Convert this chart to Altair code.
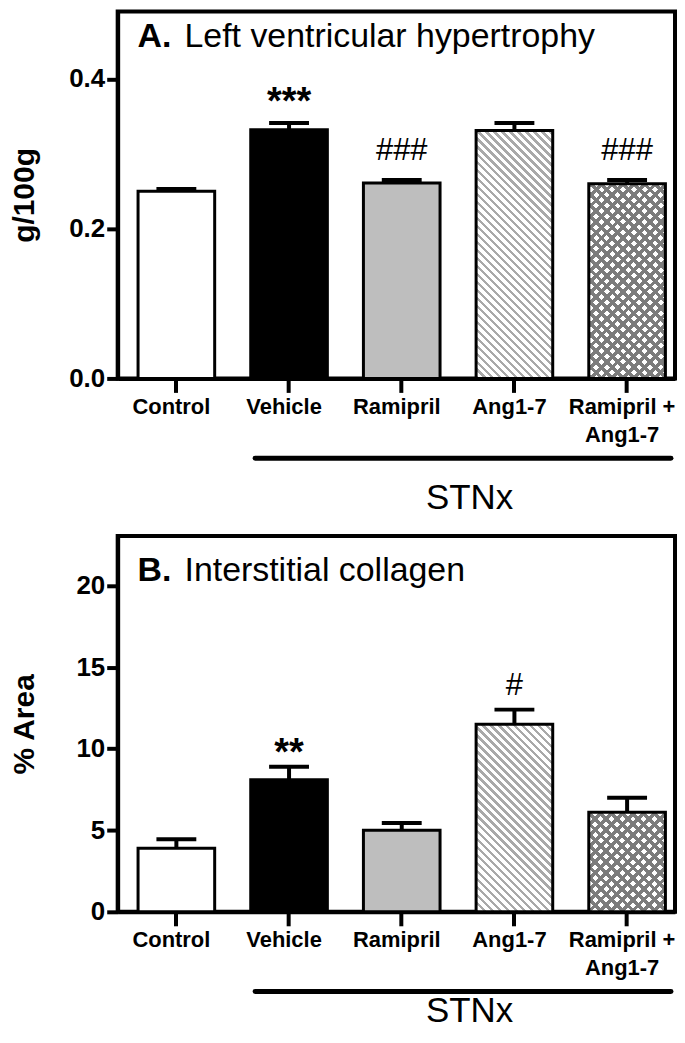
import altair as alt
import pandas as pd

# ---------------- data ----------------
groups = ["Control", "Vehicle", "Ramipril", "Ang1-7", "Ramipril + Ang1-7"]

lvh_mean = [0.250, 0.332, 0.261, 0.331, 0.260]
lvh_sem = [0.003, 0.009, 0.004, 0.010, 0.005]
lvh_stars = ["", "***", "", "", ""]
lvh_hashes = ["", "", "###", "", "###"]

col_mean = [3.9, 8.1, 5.0, 11.5, 6.1]
col_sem = [0.55, 0.8, 0.45, 0.9, 0.9]
col_stars = ["", "**", "", "", ""]
col_hashes = ["", "", "", "#", ""]

solid_fills = {"Control": "#ffffff", "Vehicle": "#000000", "Ramipril": "#bebebe"}

# ---------------- layout ----------------
W = 559
P_INNER = 0.32
P_OUTER = 0.133
ALIGN = 0.68
STEP = W / (len(groups) - P_INNER + 2 * P_OUTER)
BAR_W = STEP * (1 - P_INNER)
FONT = "Liberation Sans"


def stripe_grad(w, h, period, frac, color, bg, direction):
    n = (w + h) / period
    stops = []
    k = 0
    while k < n:
        a = k / n
        b = min((k + frac) / n, 1.0)
        c = min((k + 1) / n, 1.0)
        stops += [
            {"offset": a, "color": color},
            {"offset": b, "color": color},
            {"offset": b, "color": bg},
            {"offset": c, "color": bg},
        ]
        k += 1
    s = (w + h) / (w * w + h * h)
    if direction == "back":
        return {"gradient": "linear", "x1": 0, "y1": 1, "x2": w * s, "y2": 1 - h * s, "stops": stops}
    return {"gradient": "linear", "x1": 0, "y1": 0, "x2": w * s, "y2": h * s, "stops": stops}


def panel(means, sems, stars, hashes, ymax, H, ticks, fmt, ytitle, letter, name,
          title_y, stnx_y, star_dy, hash_dy):
    df = pd.DataFrame({
        "group": groups,
        "mean": means,
        "upper": [m + s for m, s in zip(means, sems)],
        "star": stars,
        "hash": hashes,
    })
    df["fill"] = [solid_fills.get(g, "#ffffff") for g in groups]

    xs = alt.Scale(domain=groups, paddingInner=P_INNER, paddingOuter=P_OUTER, align=ALIGN)
    xaxis = alt.Axis(
        title=None, labelAngle=0, labelFontSize=22, labelFontWeight="bold",
        labelBaseline="top", labelPadding=4, labelLineHeight=28, labelOffset=-5,
        labelExpr="split(replace(datum.label, ' + ', ' +\\n'), '\\n')",
        tickSize=14, tickWidth=4, domainWidth=4, tickColor="black",
        domainColor="black", labelColor="black",
    )
    ys = alt.Scale(domain=[0, ymax], nice=False, zero=True)
    yaxis = alt.Axis(
        title=ytitle, titleFontSize=30, titleFontWeight="bold", titleColor="black",
        titleX=-108, titleBaseline="top", titleAngle=270,
        values=ticks, format=fmt, labelFontSize=26, labelFontWeight="bold",
        labelColor="black", labelPadding=2, tickSize=11, tickWidth=4,
        domainWidth=4, tickColor="black", domainColor="black", grid=False,
    )
    x = alt.X("group:N", scale=xs, axis=xaxis)
    y = alt.Y("mean:Q", scale=ys, axis=yaxis)
    yu = alt.Y("upper:Q", scale=ys, axis=yaxis)

    base = alt.Chart(df)

    solid = base.transform_filter(
        alt.FieldOneOfPredicate(field="group", oneOf=list(solid_fills))
    ).mark_bar(stroke="black", strokeWidth=3).encode(
        x=x, y=y, fill=alt.Fill("fill:N", scale=None)
    )

    h_ang = means[3] / ymax * H
    h_rpa = means[4] / ymax * H

    ang = base.transform_filter(alt.datum.group == "Ang1-7").mark_bar(
        fill=stripe_grad(BAR_W, h_ang, 8.0, 0.42, "#a9a9a9", "#ffffff", "back"),
        stroke="black", strokeWidth=3,
    ).encode(x=x, y=y)

    rpa1 = base.transform_filter(alt.datum.group == "Ramipril + Ang1-7").mark_bar(
        fill=stripe_grad(BAR_W, h_rpa, 10.8, 0.45, "#7c7c7c", "#ffffff", "back"),
        strokeWidth=0,
    ).encode(x=x, y=y)
    rpa2 = base.transform_filter(alt.datum.group == "Ramipril + Ang1-7").mark_bar(
        fill=stripe_grad(BAR_W, h_rpa, 10.8, 0.45, "#7c7c7c", "rgba(255,255,255,0)", "fwd"),
        stroke="black", strokeWidth=3,
    ).encode(x=x, y=y)

    err = base.mark_rule(strokeWidth=4, color="black").encode(x=x, y=y, y2="upper:Q")
    cap = base.mark_tick(size=40, thickness=4, color="black", opacity=1).encode(x=x, y=yu)

    star_t = base.mark_text(fontSize=38, fontWeight="bold", baseline="alphabetic",
                            dy=star_dy, color="black").encode(x=x, y=yu, text="star:N")
    hash_t = base.mark_text(fontSize=31, baseline="alphabetic", dy=hash_dy,
                            color="black").encode(x=x, y=yu, text="hash:N")

    stnx_df = pd.DataFrame({"group": ["Vehicle"], "group_end": [groups[-1]]})
    stnx_line = alt.Chart(stnx_df).mark_rule(
        strokeWidth=5, strokeCap="round", color="black", xOffset=-34, x2Offset=44
    ).encode(x=x, x2="group_end:N", y=alt.value(H + 80))
    stnx_txt = alt.Chart(pd.DataFrame({"group": ["Ramipril"], "t": ["STNx"]})).mark_text(
        fontSize=35, dx=68, baseline="alphabetic", color="black"
    ).encode(x=x, y=alt.value(H + stnx_y), text="t:N")

    t1 = alt.Chart(pd.DataFrame({"t": [letter]})).mark_text(
        fontSize=34, fontWeight="bold", align="left", baseline="alphabetic", color="black"
    ).encode(x=alt.value(20), y=alt.value(title_y), text="t:N")
    t2 = alt.Chart(pd.DataFrame({"t": [name]})).mark_text(
        fontSize=34, align="left", baseline="alphabetic", color="black"
    ).encode(x=alt.value(67), y=alt.value(title_y), text="t:N")

    return alt.layer(
        solid, ang, rpa1, rpa2, err, cap, star_t, hash_t, stnx_line, stnx_txt, t1, t2
    ).properties(width=W, height=H)


top = panel(lvh_mean, lvh_sem, lvh_stars, lvh_hashes, 0.49, 368, [0, 0.2, 0.4], ".1f",
            "g/100g", "A.", "Left ventricular hypertrophy", 36, 131, -9, -20)
bottom = panel(col_mean, col_sem, col_stars, col_hashes, 23.05, 377, [0, 5, 10, 15, 20], "d",
               "% Area", "B.", "Interstitial collagen", 45, 110, -2, -15)

chart = alt.vconcat(top, bottom, spacing=16).properties(
    padding=0
).configure(font=FONT).configure_view(stroke="black", strokeWidth=4)

chart.save("out.html", embed_options={"renderer": "svg", "actions": False})
